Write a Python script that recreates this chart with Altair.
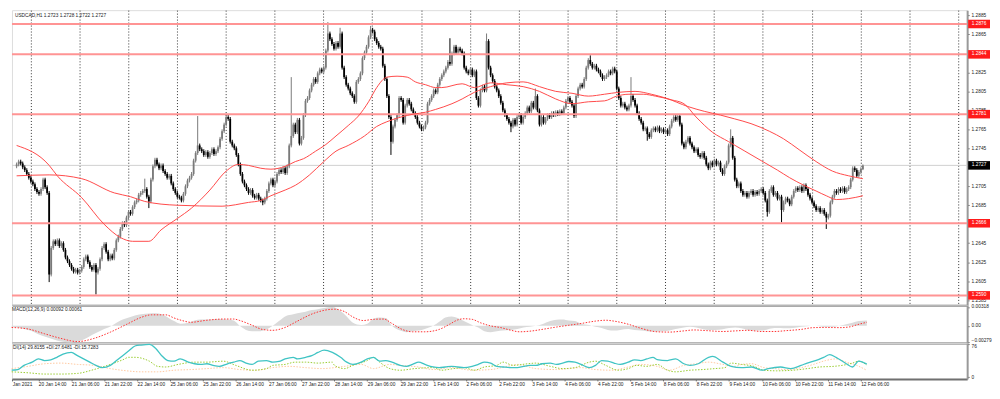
import altair as alt
import pandas as pd

# ---------------- H1 candle closes, bar index 0..416 ----------------
CLOSES = [
 1.2728,1.2731,1.2729,1.2725,1.2722,1.2718,1.2714,1.2710,1.2707,1.2702,
 1.2699,1.2697,1.2702,1.2712,1.2704,1.2698,1.2612,1.2640,1.2647,1.2644,
 1.2648,1.2642,1.2645,1.2638,1.2630,1.2626,1.2622,1.2618,1.2615,1.2617,
 1.2614,1.2616,1.2620,1.2628,1.2631,1.2625,1.2620,1.2617,1.2622,1.2614,
 1.2618,1.2628,1.2640,1.2644,1.2636,1.2628,1.2632,1.2629,1.2638,1.2648,
 1.2652,1.2660,1.2666,1.2664,1.2672,1.2678,1.2676,1.2683,1.2688,1.2690,
 1.2696,1.2698,1.2700,1.2702,1.2694,1.2689,1.2712,1.2726,1.2733,1.2728,
 1.2724,1.2727,1.2721,1.2718,1.2714,1.2716,1.2708,1.2702,1.2698,1.2694,
 1.2693,1.2690,1.2697,1.2705,1.2711,1.2714,1.2718,1.2732,1.2740,1.2748,
 1.2744,1.2742,1.2738,1.2741,1.2736,1.2740,1.2744,1.2739,1.2742,1.2746,
 1.2755,1.2763,1.2770,1.2778,1.2776,1.2752,1.2748,1.2745,1.2738,1.2728,
 1.2718,1.2710,1.2706,1.2702,1.2698,1.2701,1.2695,1.2693,1.2696,1.2692,
 1.2690,1.2688,1.2692,1.2700,1.2708,1.2712,1.2706,1.2710,1.2718,1.2722,
 1.2720,1.2724,1.2719,1.2726,1.2748,1.2758,1.2770,1.2762,1.2775,1.2750,
 1.2756,1.2780,1.2795,1.2798,1.2806,1.2812,1.2818,1.2815,1.2824,1.2828,
 1.2826,1.2830,1.2848,1.2866,1.2860,1.2855,1.2850,1.2856,1.2852,1.2866,
 1.2830,1.2820,1.2812,1.2808,1.2803,1.2800,1.2794,1.2815,1.2818,1.2824,
 1.2840,1.2846,1.2852,1.2862,1.2870,1.2868,1.2860,1.2856,1.2852,1.2850,
 1.2832,1.2818,1.2800,1.2778,1.2752,1.2768,1.2775,1.2780,1.2798,1.2796,
 1.2772,1.2790,1.2796,1.2792,1.2786,1.2782,1.2778,1.2772,1.2768,1.2765,
 1.2767,1.2772,1.2792,1.2796,1.2800,1.2806,1.2804,1.2812,1.2818,1.2822,
 1.2826,1.2830,1.2836,1.2834,1.2845,1.2852,1.2846,1.2850,1.2848,1.2845,
 1.2830,1.2826,1.2824,1.2828,1.2822,1.2826,1.2798,1.2790,1.2806,1.2810,
 1.2806,1.2858,1.2830,1.2822,1.2816,1.2810,1.2806,1.2800,1.2793,1.2785,
 1.2780,1.2776,1.2772,1.2768,1.2775,1.2770,1.2778,1.2780,1.2772,1.2778,
 1.2782,1.2788,1.2784,1.2793,1.2788,1.2800,1.2785,1.2770,1.2778,1.2772,
 1.2776,1.2780,1.2778,1.2782,1.2780,1.2783,1.2781,1.2784,1.2782,1.2788,
 1.2795,1.2798,1.2794,1.2790,1.2779,1.2800,1.2808,1.2812,1.2810,1.2818,
 1.2830,1.2838,1.2834,1.2830,1.2832,1.2828,1.2826,1.2822,1.2818,1.2820,
 1.2822,1.2826,1.2824,1.2829,1.2826,1.2808,1.2798,1.2790,1.2792,1.2788,
 1.2786,1.2790,1.2800,1.2796,1.2790,1.2782,1.2776,1.2772,1.2765,1.2766,
 1.2760,1.2757,1.2764,1.2766,1.2764,1.2767,1.2763,1.2765,1.2762,1.2764,
 1.2760,1.2768,1.2774,1.2778,1.2775,1.2779,1.2770,1.2750,1.2746,1.2752,
 1.2756,1.2750,1.2746,1.2742,1.2744,1.2738,1.2736,1.2740,1.2735,1.2728,
 1.2724,1.2730,1.2727,1.2732,1.2728,1.2730,1.2722,1.2718,1.2726,1.2730,
 1.2748,1.2756,1.2735,1.2712,1.2705,1.2708,1.2700,1.2696,1.2698,1.2694,
 1.2698,1.2700,1.2696,1.2699,1.2697,1.2700,1.2702,1.2698,1.2690,1.2678,
 1.2700,1.2704,1.2696,1.2698,1.2692,1.2694,1.2680,1.2688,1.2692,1.2690,
 1.2686,1.2694,1.2700,1.2703,1.2701,1.2704,1.2700,1.2706,1.2702,1.2696,
 1.2692,1.2688,1.2684,1.2680,1.2682,1.2678,1.2680,1.2676,1.2672,1.2674,
 1.2688,1.2694,1.2700,1.2698,1.2702,1.2700,1.2703,1.2699,1.2702,1.2704,
 1.2712,1.2724,1.2722,1.2716,1.2720,1.2723,1.2727,
]
FIRST_OPEN = 1.2726
HIGH_SPIKES = {13: 1.2714, 63: 1.2713, 89: 1.2779, 135: 1.2820, 153: 1.2878,
               159: 1.2872, 174: 1.2874, 213: 1.2861, 231: 1.2866, 255: 1.2808,
               282: 1.2843, 302: 1.2820, 325: 1.2781, 351: 1.2765, 387: 1.2708,
               416: 1.2728}
LOW_SPIKES = {16: 1.2604, 39: 1.2591, 65: 1.2682, 121: 1.2685, 184: 1.2738,
              243: 1.2762, 310: 1.2753, 369: 1.2673, 376: 1.2667, 398: 1.2660,
              416: 1.2722}

# moving averages (bar, price)
MA_FAST = [(0,1.2748),(16,1.2727),(20,1.2716),(32,1.2693),(43,1.2665),(51,1.2651),(57,1.2647),(65,1.2647),
           (71,1.2659),(79,1.2671),(86,1.2682),(95,1.2701),(103,1.2721),(109,1.2728),(114,1.2727),(120,1.2724),
           (125,1.2723),(132,1.2726),(137,1.2731),(141,1.2734),(147,1.2742),(152,1.2749),(157,1.2758),(163,1.2769),
           (168,1.2779),(173,1.2794),(177,1.2809),(182,1.2820),(187,1.2821),(192,1.2820),(196,1.2815),(201,1.2812),
           (206,1.2809),(209,1.2809),(219,1.2813),(225,1.2809),(233,1.2814),(241,1.2812),(249,1.2810),(257,1.2805),
           (265,1.2797),(273,1.2792),(281,1.2794),(289,1.2795),(295,1.2800),(301,1.2802),(308,1.2802),(314,1.2800),
           (322,1.2796),(328,1.2792),(334,1.2778),(342,1.2762),(350,1.2752),(358,1.2742),(366,1.2732),(374,1.2722),
           (380,1.2714),(387,1.2706),(393,1.2700),(398,1.2695),(403,1.2691),(409,1.2692),(416,1.2695)]
MA_SLOW = [(0,1.2716),(16,1.2717),(32,1.2713),(48,1.2698),(56,1.2694),(63,1.2689),(79,1.2685),(101,1.2684),
           (114,1.2688),(120,1.2690),(125,1.2695),(132,1.2701),(137,1.2706),(144,1.2717),(151,1.2731),(157,1.2742),
           (163,1.2748),(171,1.2758),(177,1.2768),(182,1.2773),(189,1.2778),(195,1.2781),(201,1.2783),(206,1.2786),
           (214,1.2792),(219,1.2797),(225,1.2804),(233,1.2810),(241,1.2814),(249,1.2815),(257,1.2810),(265,1.2805),
           (273,1.2803),(281,1.2800),(289,1.2802),(296,1.2804),(304,1.2805),(312,1.2802),(319,1.2798),(330,1.2789),
           (338,1.2784),(346,1.2780),(353,1.2776),(361,1.2771),(370,1.2763),(377,1.2755),(385,1.2743),(393,1.2731),
           (401,1.2721),(409,1.2716),(416,1.2713)]

LEVELS = [1.2876, 1.2844, 1.2781, 1.2666, 1.2590]
LAST_PRICE = 1.2727
PRICE_TICKS = [1.2585,1.2605,1.2625,1.2645,1.2685,1.2705,1.2745,1.2765,1.2785,1.2805,1.2825,1.2865,1.2885]
TITLE = "USDCAD,H1  1.2723 1.2728 1.2722 1.2727"

# MACD(12,26,9): main (histogram) and signal, (bar, value)
MACD_MAIN = [(0,-0.00016),(3,-0.00027),(6,-0.00053),(10,-0.00090),(13,-0.00143),(16,-0.00180),(19,-0.00215),
             (22,-0.00245),(25,-0.00270),(29,-0.00279),(32,-0.00265),(35,-0.00230),(38,-0.00175),(41,-0.00122),
             (44,-0.00069),(48,-0.00010),(51,0.00053),(54,0.00106),(57,0.00143),(60,0.00175),(63,0.00196),
             (67,0.00207),(70,0.00212),(73,0.00196),(76,0.00143),(79,0.00080),(82,0.00037),(86,0.00053),
             (89,0.00090),(92,0.00106),(95,0.00106),(98,0.00112),(101,0.00117),(105,0.00106),(108,0.00090),
             (111,0.00000),(114,-0.00069),(117,-0.00090),(120,-0.00090),(124,-0.00060),(127,0.00000),(130,0.00080),
             (133,0.00159),(137,0.00196),(139,0.00212),(143,0.00239),(146,0.00266),(149,0.00281),(152,0.00300),
             (156,0.00318),(160,0.00250),(163,0.00159),(166,0.00053),(170,0.00016),(173,0.00037),(176,0.00122),
             (179,0.00143),(182,0.00133),(185,0.00000),(189,-0.00080),(192,-0.00106),(195,-0.00090),(198,-0.00080),
             (201,-0.00053),(205,0.00000),(208,0.00069),(211,0.00143),(214,0.00159),(217,0.00133),(220,0.00080),
             (224,0.00016),(227,-0.00027),(230,-0.00090),(233,-0.00106),(236,-0.00090),(239,-0.00080),(243,-0.00069),
             (246,-0.00053),(249,-0.00027),(252,-0.00016),(255,0.00000),(258,0.00027),(262,0.00080),(265,0.00101),
             (268,0.00106),(271,0.00090),(274,0.00080),(277,0.00037),(281,0.00016),(284,-0.00016),(287,-0.00037),
             (290,-0.00069),(293,-0.00080),(296,-0.00069),(300,-0.00053),(303,-0.00069),(306,-0.00080),(309,-0.00090),
             (312,-0.00096),(317,-0.00090),(320,-0.00080),(323,-0.00053),(327,-0.00027),(330,-0.00016),(333,-0.00027),
             (336,-0.00053),(339,-0.00069),(342,-0.00069),(346,-0.00058),(349,-0.00037),(352,-0.00027),(355,-0.00042),
             (358,-0.00069),(361,-0.00080),(365,-0.00080),(368,-0.00058),(371,-0.00037),(374,-0.00037),(377,-0.00042),
             (380,-0.00037),(384,-0.00016),(387,-0.00005),(390,0.00000),(393,-0.00005),(396,-0.00016),(400,-0.00016),
             (403,0.00005),(406,0.00027),(409,0.00053),(412,0.00080),(416,0.00092)]
MACD_SIGNAL = [(0,-0.00027),(8,-0.00053),(16,-0.00133),(24,-0.00212),(32,-0.00265),(40,-0.00212),(48,-0.00106),
               (56,0.00027),(63,0.00143),(68,0.00186),(75,0.00186),(79,0.00133),(84,0.00080),(87,0.00060),
               (95,0.00095),(103,0.00115),(108,0.00115),(111,0.00090),(117,0.00010),(122,-0.00060),(127,-0.00075),
               (133,-0.00027),(139,0.00080),(147,0.00212),(157,0.00281),(162,0.00239),(166,0.00150),(171,0.00090),
               (176,0.00110),(181,0.00115),(185,0.00040),(190,-0.00060),(195,-0.00100),(201,-0.00100),(208,-0.00060),
               (213,0.00027),(217,0.00100),(220,0.00120),(224,0.00110),(228,0.00053),(233,0.00000),(238,-0.00030),
               (243,-0.00075),(247,-0.00100),(252,-0.00090),(258,-0.00060),(265,-0.00020),(271,0.00010),(277,0.00040),
               (284,0.00080),(289,0.00095),(293,0.00080),(300,0.00027),(306,-0.00040),(314,-0.00100),(320,-0.00105),
               (327,-0.00085),(332,-0.00069),(338,-0.00080),(346,-0.00095),(352,-0.00085),(358,-0.00075),(365,-0.00095),
               (371,-0.00095),(377,-0.00080),(384,-0.00060),(390,-0.00030),(396,-0.00027),(403,-0.00030),(408,-0.00015),
               (411,0.00016),(416,0.00061)]
MACD_TICKS = [-0.00279, 0.0, 0.00318]
MACD_TITLE = "MACD(12,26,9) 0.00092 0.00061"

# ADX(14) panel: ADX, +DI, -DI  (bar, value)
ADX = [(0,15.9),(3,17.4),(6,27.0),(10,34.4),(13,41.8),(16,38.1),(19,39.6),(22,45.5),(25,52.9),(29,56.6),
       (32,49.2),(35,41.8),(38,34.4),(41,27.0),(44,21.8),(48,27.0),(51,38.1),(54,49.2),(57,60.3),(60,71.4),
       (63,73.6),(67,75.1),(70,66.2),(73,49.2),(76,38.1),(79,36.6),(82,41.8),(86,34.4),(89,30.7),(92,29.2),
       (95,30.7),(98,27.0),(101,24.8),(105,30.7),(108,34.4),(111,38.1),(114,32.2),(117,29.2),(120,36.6),(124,38.1),
       (127,34.4),(130,35.9),(133,41.8),(137,45.5),(139,41.8),(143,45.5),(146,49.2),(149,56.6),(152,61.8),(156,56.6),
       (160,45.5),(163,34.4),(166,29.2),(170,34.4),(173,41.8),(176,45.5),(179,36.6),(182,38.1),(185,34.4),(189,27.0),
       (192,24.8),(195,29.2),(198,34.4),(201,29.2),(205,23.3),(208,21.8),(211,23.3),(214,24.8),(217,23.3),(220,21.8),
       (224,24.8),(227,29.2),(230,34.4),(233,32.2),(236,24.8),(239,23.3),(243,21.8),(246,21.8),(249,24.8),(252,27.0),
       (255,27.0),(258,30.7),(262,32.2),(265,29.2),(268,32.2),(271,35.9),(274,34.4),(277,29.2),(281,21.8),(284,27.0),
       (287,38.1),(290,36.6),(293,32.2),(296,29.2),(300,34.4),(303,39.6),(306,38.1),(309,41.8),(312,45.5),(314,40.3),
       (319,38.1),(323,41.8),(327,30.7),(330,27.0),(334,30.7),(339,45.5),(341,47.7),(346,34.4),(350,24.8),(355,21.8),
       (360,23.3),(365,15.9),(368,19.6),(374,23.3),(379,19.6),(384,27.0),(387,32.2),(391,38.1),(395,45.5),(398,51.4),
       (401,45.5),(406,30.7),(409,23.3),(412,36.6),(416,29.8)]
PLUS_DI = [(0,12.2),(8,10.0),(16,7.1),(24,7.1),(32,8.6),(40,17.4),(48,29.2),(54,39.6),(57,45.5),(60,45.5),
           (67,36.6),(71,24.8),(75,23.3),(81,29.2),(89,34.4),(95,34.4),(103,36.6),(109,27.0),(117,15.9),(124,19.6),
           (127,27.0),(133,29.2),(138,34.4),(143,34.4),(149,32.2),(156,34.4),(157,27.0),(162,19.6),(166,27.0),(173,38.1),
           (176,45.5),(179,34.4),(184,19.6),(189,15.9),(196,19.6),(205,21.8),(209,15.9),(215,19.6),(220,21.8),(225,15.9),
           (230,23.3),(236,27.0),(239,34.4),(244,27.0),(251,30.7),(255,32.2),(262,24.8),(268,19.6),(274,21.8),(281,34.4),
           (284,36.6),(289,27.0),(295,15.9),(300,19.6),(304,27.0),(309,24.8),(314,29.2),(319,15.9),(323,12.2),(330,15.9),
           (336,17.4),(342,19.6),(347,21.8),(350,32.2),(355,29.2),(361,24.8),(366,15.9),(372,14.5),(380,15.9),(387,19.6),
           (393,23.3),(400,24.8),(404,27.0),(409,32.2),(412,36.6),(416,27.6)]
MINUS_DI = [(0,19.6),(8,24.8),(16,30.7),(24,32.2),(32,29.2),(40,27.0),(48,19.6),(56,14.5),(63,12.2),(71,12.2),
            (79,15.9),(87,17.4),(95,19.6),(103,21.8),(111,17.4),(119,15.9),(127,21.8),(135,24.8),(143,21.8),(151,19.6),
            (157,21.8),(162,24.8),(170,29.2),(176,19.6),(184,29.2),(189,27.0),(198,23.3),(205,17.4),(214,21.8),(224,15.9),
            (233,17.4),(241,24.8),(246,29.2),(255,19.6),(265,17.4),(271,19.6),(277,21.8),(284,17.4),(292,15.9),(300,23.3),
            (306,29.2),(314,24.8),(320,15.9),(327,27.0),(333,30.7),(339,34.4),(346,29.2),(352,24.8),(355,29.2),(360,30.7),
            (366,21.8),(371,19.6),(377,17.4),(384,21.8),(390,29.2),(396,38.1),(401,41.8),(406,34.4),(411,27.0),(416,15.7)]
DMI_TICKS = [0, 76]
DMI_TITLE = "DI(14) 29.8155 +DI:27.6481 -DI:15.7283"

# time axis
TIME_BARS = [13 + 16 * k for k in range(26)]
TIME_LABELS = ["20 Jan 14:00","21 Jan 06:00","21 Jan 22:00","22 Jan 14:00","25 Jan 06:00","25 Jan 22:00",
               "26 Jan 14:00","27 Jan 06:00","27 Jan 22:00","28 Jan 14:00","29 Jan 06:00","29 Jan 22:00",
               "1 Feb 14:00","2 Feb 06:00","2 Feb 22:00","3 Feb 14:00","4 Feb 06:00","4 Feb 22:00",
               "5 Feb 14:00","8 Feb 06:00","8 Feb 22:00","9 Feb 14:00","10 Feb 06:00","10 Feb 22:00",
               "11 Feb 14:00","12 Feb 06:00"]
GRID_BARS = [6.8 + 24 * k for k in range(20)]

# ---------------- layout / style ----------------
W = 961
H_MAIN, H_MACD, H_DMI = 297, 38, 36
X_DOMAIN = [0.16, 464.8]
Y_MAIN = [1.25795, 1.28906]
Y_MACD = [-0.00291, 0.00346]
Y_DMI = [-4, 78]
FS = 4.8
FONT = "Liberation Sans"
WICK_PAD = 0.0002
SEP = "#707070"

opens = [FIRST_OPEN] + CLOSES[:-1]
rows = []
for i, c in enumerate(CLOSES):
    o = opens[i]
    hi = HIGH_SPIKES.get(i, max(o, c) + WICK_PAD)
    lo = LOW_SPIKES.get(i, min(o, c) - WICK_PAD)
    rows.append({"bar": i, "open": o, "close": c, "high": max(hi, o, c), "low": min(lo, o, c),
                 "dir": "up" if c >= o else "down"})
candles = pd.DataFrame(rows)

ma_df = pd.DataFrame([{"bar": b, "v": v, "ma": "fast"} for b, v in MA_FAST] +
                     [{"bar": b, "v": v, "ma": "slow"} for b, v in MA_SLOW])
lvl_df = pd.DataFrame({"p": LEVELS + [LAST_PRICE],
                       "fill": ["#ff1a1a"] * len(LEVELS) + ["#000000"],
                       "label": [f"{p:.4f}" for p in LEVELS] + [f"{LAST_PRICE:.4f}"]})
lvl_df["lo"] = lvl_df["p"] - 0.00045
lvl_df["hi"] = lvl_df["p"] + 0.00045

def xenc(axis):
    return alt.X("bar:Q", scale=alt.Scale(domain=X_DOMAIN, nice=False, zero=False), axis=axis, title=None)

main_xaxis = alt.Axis(values=GRID_BARS, labels=False, ticks=False, grid=True, gridDash=[1, 2],
                      gridColor="#333333", gridWidth=1, domainColor=SEP, domainWidth=2, minExtent=0)
main_yaxis = alt.Axis(orient="right", values=PRICE_TICKS, format=".4f", labelFontSize=FS, tickSize=2,
                      tickColor="#666", labelPadding=2, domainColor="#999999", domainWidth=2, grid=False,
                      labelColor="#222", labelFont=FONT)

def ymain(field):
    return alt.Y(field, type="quantitative", scale=alt.Scale(domain=Y_MAIN, nice=False, zero=False),
                 axis=main_yaxis, title=None)

X_M = xenc(main_xaxis)
col = alt.Color("dir:N", scale=alt.Scale(domain=["up", "down"], range=["#7a7a7a", "#000000"]), legend=None)

last_line = alt.Chart(lvl_df.tail(1)).mark_rule(color="#d0d0d0", strokeWidth=1).encode(y=ymain("p"))
wicks = alt.Chart(candles).mark_rule(strokeWidth=1).encode(x=X_M, y=ymain("low"), y2="high", color=col)
bodies = alt.Chart(candles).mark_bar(size=1.8).encode(x=X_M, y=ymain("open"), y2="close", color=col)
lvls = alt.Chart(lvl_df.head(len(LEVELS))).mark_rule(color="#ff9494", strokeWidth=2).encode(y=ymain("p"))
mas = alt.Chart(ma_df).mark_line(color="#ff4a4a", strokeWidth=1, interpolate="monotone").encode(
    x=X_M, y=ymain("v"), detail="ma:N")
boxes = alt.Chart(lvl_df).mark_rect().encode(
    x=alt.value(W + 1), x2=alt.value(W + 23), y=ymain("lo"), y2="hi",
    color=alt.Color("fill:N", scale=None))
box_txt = alt.Chart(lvl_df).mark_text(color="white", fontSize=FS, font=FONT, align="center",
                                      baseline="middle").encode(
    x=alt.value(W + 12), y=ymain("p"), text="label:N")
title_txt = alt.Chart(pd.DataFrame({"t": [TITLE]})).mark_text(
    align="left", baseline="top", fontSize=FS, font=FONT, color="#222").encode(
    x=alt.value(3), y=alt.value(3), text="t:N")

main = alt.layer(last_line, wicks, bodies, lvls, mas, boxes, box_txt, title_txt).properties(
    width=W, height=H_MAIN)

# MACD panel
macd_main = pd.DataFrame(MACD_MAIN, columns=["bar", "v"])
macd_sig = pd.DataFrame(MACD_SIGNAL, columns=["bar", "v"])
macd_xaxis = alt.Axis(labels=False, ticks=False, grid=False, domainColor=SEP, domainWidth=2, minExtent=0)
macd_yaxis = alt.Axis(orient="right", values=MACD_TICKS, labelFontSize=FS, tickSize=2, tickColor="#666",
                      labelPadding=2, domainColor="#999999", domainWidth=2, grid=False, labelColor="#222",
                      labelFont=FONT, labelFlush=True,
                      labelExpr="datum.value == 0 ? '0.00' : format(datum.value, '.5f')")
X_C = xenc(macd_xaxis)
def ymacd(field):
    return alt.Y(field, type="quantitative", scale=alt.Scale(domain=Y_MACD, nice=False, zero=False),
                 axis=macd_yaxis, title=None)

hist = alt.Chart(macd_main).mark_area(color="#dadada", interpolate="monotone").encode(
    x=X_C, y=ymacd("v"), y2=alt.datum(0))
sig = alt.Chart(macd_sig).mark_line(color="#ff3030", strokeWidth=1, strokeDash=[1.5, 1.5],
                                    interpolate="monotone").encode(x=X_C, y=ymacd("v"))
macd_txt = alt.Chart(pd.DataFrame({"t": [MACD_TITLE]})).mark_text(
    align="left", baseline="top", fontSize=FS, font=FONT, color="#222").encode(
    x=alt.value(0), y=alt.value(2), text="t:N")
macd = alt.layer(hist, sig, macd_txt).properties(width=W, height=H_MACD)

# DMI panel
dmi_df = pd.DataFrame([{"bar": b, "v": v, "s": "adx"} for b, v in ADX] +
                      [{"bar": b, "v": v, "s": "plus"} for b, v in PLUS_DI] +
                      [{"bar": b, "v": v, "s": "minus"} for b, v in MINUS_DI])
arr = "[" + ",".join("'" + t + "'" for t in TIME_LABELS) + "]"
dmi_xaxis = alt.Axis(values=[0.3] + TIME_BARS, grid=False, domainColor=SEP, domainWidth=2, tickSize=2,
                     tickColor="#666", labelFontSize=FS, labelFont=FONT, labelColor="#222", labelAlign="left",
                     labelPadding=1, labelOverlap=False, labelFlush=False,
                     labelExpr="datum.value < 1 ? 'Jan 2021' : " + arr + "[round((datum.value-13)/16)]")
dmi_yaxis = alt.Axis(orient="right", values=DMI_TICKS, labelFontSize=FS, tickSize=2, tickColor="#666",
                     labelPadding=2, domainColor="#999999", domainWidth=2, grid=False, labelColor="#222",
                     labelFont=FONT, labelFlush=True)
X_D = xenc(dmi_xaxis)
def ydmi(field):
    return alt.Y(field, type="quantitative", scale=alt.Scale(domain=Y_DMI, nice=False, zero=False),
                 axis=dmi_yaxis, title=None)

minus_l = alt.Chart(dmi_df[dmi_df.s == "minus"]).mark_line(
    color="#ffc9a0", strokeWidth=1, strokeDash=[1.5, 1.5], interpolate="monotone").encode(x=X_D, y=ydmi("v"))
plus_l = alt.Chart(dmi_df[dmi_df.s == "plus"]).mark_line(
    color="#9acd32", strokeWidth=1, strokeDash=[1.5, 1.5], interpolate="monotone").encode(x=X_D, y=ydmi("v"))
adx_l = alt.Chart(dmi_df[dmi_df.s == "adx"]).mark_line(
    color="#40c4c4", strokeWidth=1.3, interpolate="monotone").encode(x=X_D, y=ydmi("v"))
dmi_txt = alt.Chart(pd.DataFrame({"t": [DMI_TITLE]})).mark_text(
    align="left", baseline="top", fontSize=FS, font=FONT, color="#222").encode(
    x=alt.value(1), y=alt.value(2), text="t:N")
dmi = alt.layer(minus_l, plus_l, adx_l, dmi_txt).properties(width=W, height=H_DMI)

chart = alt.vconcat(main, macd, dmi, spacing=0, bounds="flush").properties(
    padding={"left": 0, "top": 0, "right": 0, "bottom": 0}
).configure_view(stroke=None).configure(font=FONT, background="white")

chart.save("out.html", embed_options={"renderer": "svg", "actions": False})
